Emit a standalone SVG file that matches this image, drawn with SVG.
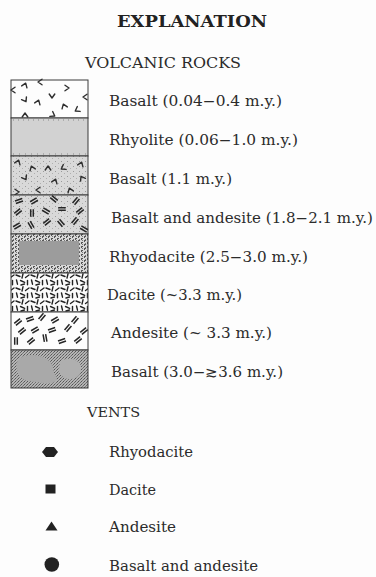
<svg xmlns="http://www.w3.org/2000/svg" xmlns:xlink="http://www.w3.org/1999/xlink" width="376" height="577" viewBox="0 0 376 577">
<style>
  .t { font-family: "DejaVu Serif", "Liberation Serif", serif; font-size: 14px; fill: #2b2b2b; }
  .h { font-family: "DejaVu Serif", "Liberation Serif", serif; font-size: 15px; fill: #2b2b2b; }
  .title { font-family: "DejaVu Serif", "Liberation Serif", serif; font-size: 16.5px; font-weight: bold; fill: #222; }
  .box { stroke: #3a3a3a; stroke-width: 1; }
  .mk { fill: none; stroke: #2e2e2e; stroke-width: 1.4; stroke-linecap: round; stroke-linejoin: round; }
  .bar { fill: none; stroke: #262626; stroke-width: 1.5; }
  .sym { fill: #222; }
</style>
<defs>
  <path id="chev" class="mk" d="M-2.8,-2 L0,2 L2.8,-2"/>
  <path id="dbl" class="bar" d="M-3.8,-1.3 L3.8,-1.3 M-3.8,1.3 L3.8,1.3"/>
  <pattern id="stip" width="6" height="5" patternUnits="userSpaceOnUse">
    <rect width="6" height="5" fill="#d9d9d9"/>
    <rect x="1" y="1" width="1" height="1" fill="#9a9a9a"/>
    <rect x="4" y="3" width="1" height="1" fill="#b0b0b0"/>
  </pattern>
  <pattern id="rhy" width="8" height="6" patternUnits="userSpaceOnUse">
    <rect width="8" height="6" fill="#d2d2d2"/>
  </pattern>
  <pattern id="chk" width="6" height="4" patternUnits="userSpaceOnUse">
    <rect width="6" height="4" fill="#d8d8d8"/>
    <path d="M0,0 h2 v1 h-1 v1 h-1 Z M3,2 h2 v1 h-1 v1 h-1 Z" fill="#555"/>
    <rect x="4" y="0" width="1" height="1" fill="#777"/>
    <rect x="1" y="3" width="1" height="1" fill="#777"/>
  </pattern>
  <pattern id="chk2" width="3" height="3" patternUnits="userSpaceOnUse">
    <rect width="3" height="3" fill="#b4b4b4"/>
    <rect width="1" height="1" fill="#555"/>
    <rect x="2" y="1" width="1" height="1" fill="#6a6a6a"/>
    <rect x="1" y="2" width="1" height="1" fill="#7a7a7a"/>
  </pattern>
  <pattern id="dac" width="15" height="13" patternUnits="userSpaceOnUse">
    <rect width="15" height="13" fill="#fbfbfb"/>
    <g fill="none" stroke="#222" stroke-width="1.4" stroke-linecap="round">
      <path d="M1,2 l4,1.5"/>
      <path d="M8,0.8 l-1,4.2"/>
      <path d="M10.5,4.5 l3.5,-2.5"/>
      <path d="M1.5,7 l1,4.2"/>
      <path d="M5.5,7.5 l4.2,1.8"/>
      <path d="M12.5,7.5 l0,4.2"/>
      <path d="M6,12 l3.5,-1"/>
    </g>
  </pattern>
</defs>
<rect width="376" height="577" fill="#fdfdfd"/>

<text class="title" x="192" y="27" text-anchor="middle" textLength="150" lengthAdjust="spacingAndGlyphs">EXPLANATION</text>
<text class="h" x="85" y="68" textLength="156" lengthAdjust="spacingAndGlyphs">VOLCANIC ROCKS</text>

<g id="basalt-004">
  <rect class="box" x="11" y="80" width="77" height="38" fill="#fdfdfd"/>
  <use xlink:href="#chev" transform="translate(13,90) rotate(90)"/>
  <use xlink:href="#chev" transform="translate(25,85) rotate(200)"/>
  <use xlink:href="#chev" transform="translate(40,82) rotate(90)"/>
  <use xlink:href="#chev" transform="translate(67,88) rotate(-90)"/>
  <use xlink:href="#chev" transform="translate(85,97) rotate(90)"/>
  <use xlink:href="#chev" transform="translate(25,100) rotate(-30)"/>
  <use xlink:href="#chev" transform="translate(38,102) rotate(200)"/>
  <use xlink:href="#chev" transform="translate(52,96) rotate(0)"/>
  <use xlink:href="#chev" transform="translate(64,106) rotate(160)"/>
  <use xlink:href="#chev" transform="translate(77,110) rotate(60)"/>
  <use xlink:href="#chev" transform="translate(25,115) rotate(180)"/>
  <use xlink:href="#chev" transform="translate(53,115) rotate(-60)"/>
  <text class="t" x="109" y="106" textLength="173" lengthAdjust="spacingAndGlyphs">Basalt (0.04−0.4 m.y.)</text>
</g>

<g id="rhyolite">
  <rect class="box" x="11" y="118" width="77" height="38" fill="url(#rhy)"/>
  <path d="M13,120 H86" stroke="#888" stroke-width="1" stroke-dasharray="1 4"/>
  <path d="M13,154 H86" stroke="#888" stroke-width="1" stroke-dasharray="1 5"/>
  <text class="t" x="109" y="145" textLength="189" lengthAdjust="spacingAndGlyphs">Rhyolite (0.06−1.0 m.y.)</text>
</g>

<g id="basalt-11">
  <rect class="box" x="11" y="156" width="77" height="39" fill="url(#stip)"/>
  <use xlink:href="#chev" transform="translate(18,162) rotate(200)"/>
  <use xlink:href="#chev" transform="translate(32,168) rotate(160)"/>
  <use xlink:href="#chev" transform="translate(48,168) rotate(180)"/>
  <use xlink:href="#chev" transform="translate(63,168) rotate(60)"/>
  <use xlink:href="#chev" transform="translate(81,164) rotate(200)"/>
  <use xlink:href="#chev" transform="translate(25,178) rotate(-30)"/>
  <use xlink:href="#chev" transform="translate(55,181) rotate(200)"/>
  <use xlink:href="#chev" transform="translate(82,178) rotate(150)"/>
  <use xlink:href="#chev" transform="translate(38,190) rotate(90)"/>
  <use xlink:href="#chev" transform="translate(70,190) rotate(160)"/>
  <use xlink:href="#chev" transform="translate(17,192) rotate(-90)"/>
  <text class="t" x="109" y="184" textLength="123" lengthAdjust="spacingAndGlyphs">Basalt (1.1 m.y.)</text>
</g>

<g id="basalt-andesite">
  <rect class="box" x="11" y="195" width="77" height="39" fill="url(#stip)"/>
  <use xlink:href="#dbl" transform="translate(19,201) rotate(-20)"/>
  <use xlink:href="#dbl" transform="translate(34,201) rotate(-30)"/>
  <use xlink:href="#dbl" transform="translate(54,199) rotate(40)"/>
  <use xlink:href="#dbl" transform="translate(76,201) rotate(-50)"/>
  <use xlink:href="#dbl" transform="translate(18,212) rotate(-40)"/>
  <use xlink:href="#dbl" transform="translate(32,213) rotate(90)"/>
  <use xlink:href="#dbl" transform="translate(46,211) rotate(30)"/>
  <use xlink:href="#dbl" transform="translate(62,209) rotate(0)"/>
  <use xlink:href="#dbl" transform="translate(80,211) rotate(-40)"/>
  <use xlink:href="#dbl" transform="translate(17,226) rotate(-30)"/>
  <use xlink:href="#dbl" transform="translate(31,225) rotate(60)"/>
  <use xlink:href="#dbl" transform="translate(47,222) rotate(-40)"/>
  <use xlink:href="#dbl" transform="translate(61,223) rotate(50)"/>
  <use xlink:href="#dbl" transform="translate(75,221) rotate(-50)"/>
  <use xlink:href="#dbl" transform="translate(84,229) rotate(30)"/>
  <text class="t" x="111" y="223" textLength="262" lengthAdjust="spacingAndGlyphs">Basalt and andesite (1.8−2.1 m.y.)</text>
</g>

<g id="rhyodacite">
  <rect class="box" x="11" y="234" width="77" height="39" fill="url(#chk)"/>
  <rect x="19" y="241" width="60" height="24" fill="#9c9c9c"/>
  <text class="t" x="109" y="262" textLength="199" lengthAdjust="spacingAndGlyphs">Rhyodacite (2.5−3.0 m.y.)</text>
</g>

<g id="dacite">
  <rect class="box" x="11" y="273" width="77" height="39" fill="url(#dac)"/>
  <text class="t" x="107" y="300" textLength="135" lengthAdjust="spacingAndGlyphs">Dacite (~3.3 m.y.)</text>
</g>

<g id="andesite">
  <rect class="box" x="11" y="312" width="77" height="38" fill="#fdfdfd"/>
  <use xlink:href="#dbl" transform="translate(18,322) rotate(-40)"/>
  <use xlink:href="#dbl" transform="translate(30,319) rotate(-20)"/>
  <use xlink:href="#dbl" transform="translate(42,317) rotate(-50)"/>
  <use xlink:href="#dbl" transform="translate(55,320) rotate(-30)"/>
  <use xlink:href="#dbl" transform="translate(75,320) rotate(-50)"/>
  <use xlink:href="#dbl" transform="translate(22,331) rotate(-40)"/>
  <use xlink:href="#dbl" transform="translate(35,330) rotate(-30)"/>
  <use xlink:href="#dbl" transform="translate(52,330) rotate(-20)"/>
  <use xlink:href="#dbl" transform="translate(68,328) rotate(-50)"/>
  <use xlink:href="#dbl" transform="translate(84,331) rotate(-40)"/>
  <use xlink:href="#dbl" transform="translate(16,341) rotate(90)"/>
  <use xlink:href="#dbl" transform="translate(31,341) rotate(-40)"/>
  <use xlink:href="#dbl" transform="translate(45,338) rotate(80)"/>
  <use xlink:href="#dbl" transform="translate(62,341) rotate(-20)"/>
  <use xlink:href="#dbl" transform="translate(78,340) rotate(-40)"/>
  <text class="t" x="111" y="338" textLength="161" lengthAdjust="spacingAndGlyphs">Andesite (~ 3.3 m.y.)</text>
</g>

<g id="basalt-30">
  <rect class="box" x="11" y="350" width="77" height="38" fill="url(#chk2)"/>
  <path d="M20,358 C28,353 40,355 48,360 C55,364 52,372 56,376 C60,381 52,385 42,383 C32,381 22,382 19,375 C16,368 15,362 20,358 Z" fill="#a9a9a9"/>
  <path d="M60,362 C66,357 76,358 80,364 C83,370 80,378 72,379 C65,380 60,376 59,370 Z" fill="#afafaf"/>
  <text class="t" x="111" y="377" textLength="172" lengthAdjust="spacingAndGlyphs">Basalt (3.0−≳3.6 m.y.)</text>
</g>

<text class="h" x="87" y="417" style="font-size:13.5px" textLength="53" lengthAdjust="spacingAndGlyphs">VENTS</text>

<g id="vent-rhyodacite">
  <path class="sym" d="M42,452 L46,447 L54,447 L58,452 L54,457 L46,457 Z"/>
  <text class="t" x="109" y="457" textLength="84" lengthAdjust="spacingAndGlyphs">Rhyodacite</text>
</g>
<g id="vent-dacite">
  <rect class="sym" x="45.5" y="484.5" width="10" height="9"/>
  <text class="t" x="109" y="495" textLength="47" lengthAdjust="spacingAndGlyphs">Dacite</text>
</g>
<g id="vent-andesite">
  <path class="sym" d="M51.5,521.5 L57.5,530.5 L45.5,530.5 Z"/>
  <text class="t" x="109" y="532" textLength="67" lengthAdjust="spacingAndGlyphs">Andesite</text>
</g>
<g id="vent-basalt-andesite">
  <circle class="sym" cx="51.8" cy="564.5" r="7.3"/>
  <text class="t" x="109" y="571" textLength="149" lengthAdjust="spacingAndGlyphs">Basalt and andesite</text>
</g>
</svg>
